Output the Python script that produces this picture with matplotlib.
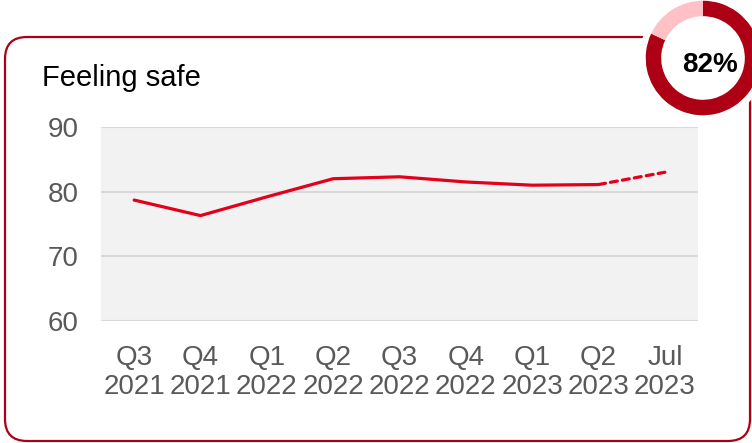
import matplotlib
matplotlib.use("Agg")
import matplotlib.pyplot as plt
from matplotlib.patches import FancyBboxPatch

plt.rcParams["font.family"] = ["Liberation Sans", "DejaVu Sans"]

periods = ["Q3\n2021", "Q4\n2021", "Q1\n2022", "Q2\n2022", "Q3\n2022",
           "Q4\n2022", "Q1\n2023", "Q2\n2023", "Jul\n2023"]
feeling_safe = [78.7, 76.3, 79.2, 82.0, 82.3, 81.5, 81.0, 81.1, 83.0]
n_solid = 8  # quarterly values; the last point is a monthly reading
latest_pct = 82

RED = "#E3001B"
DARK_RED = "#AE0014"
PINK = "#FFC1C6"
GREY_TXT = "#595959"

W, H = 752, 443
fig = plt.figure(figsize=(W / 100, H / 100), dpi=100)

# rounded card outline (inch units keep the corners circular)
card = FancyBboxPatch((0.05, 0.02), 7.45, 4.04,
                      boxstyle="round,pad=0,rounding_size=0.22",
                      transform=fig.dpi_scale_trans, facecolor="none",
                      edgecolor=DARK_RED, linewidth=1.6, zorder=-1)
fig.patches.append(card)

ax = fig.add_axes([101 / W, 1 - 321 / H, (698 - 101) / W, (321 - 127) / H])
ax.set_facecolor("#F2F2F2")
x = list(range(len(periods)))
ax.plot(x[:n_solid], feeling_safe[:n_solid], color=RED, linewidth=2.3,
        solid_capstyle="round", zorder=3)
ax.plot(x[n_solid - 1:], feeling_safe[n_solid - 1:], color=RED, linewidth=2.3,
        linestyle=(0, (2.2, 1.6)), dash_capstyle="round", zorder=3)

ax.set_xlim(-0.5, len(periods) - 0.5)
ax.set_ylim(60, 90)
ax.set_yticks([60, 70, 80, 90])
ax.set_xticks(x)
ax.set_xticklabels(periods, linespacing=1.15)
ax.grid(axis="y", color="#D9D9D9", linewidth=1.5)
ax.set_axisbelow(True)
for s in ax.spines.values():
    s.set_visible(False)
ax.tick_params(axis="both", length=0, labelsize=20, labelcolor=GREY_TXT)
ax.tick_params(axis="y", pad=16)
ax.tick_params(axis="x", pad=17)

fig.text(42 / W, 1 - 86 / H, "Feeling safe", fontsize=21, color="black",
         ha="left", va="baseline")

# donut badge in the top-right corner
dax = fig.add_axes([(703 - 63) / W, 1 - (58 + 63) / H, 126 / W, 126 / H])
dax.set_aspect("equal")
dax.add_patch(plt.Circle((0, 0), 1.1, color="white", zorder=0))
dax.pie([latest_pct, 100 - latest_pct], colors=[DARK_RED, PINK],
        startangle=90, counterclock=False, radius=1.0,
        wedgeprops=dict(width=0.27, linewidth=0))
dax.text(0.13, -0.12, f"{latest_pct}%", ha="center", va="center",
         fontsize=20, fontweight="bold", color="black")
dax.set_xlim(-1.1, 1.1)
dax.set_ylim(-1.1, 1.1)
dax.axis("off")

fig.savefig("out.png", dpi=100)
